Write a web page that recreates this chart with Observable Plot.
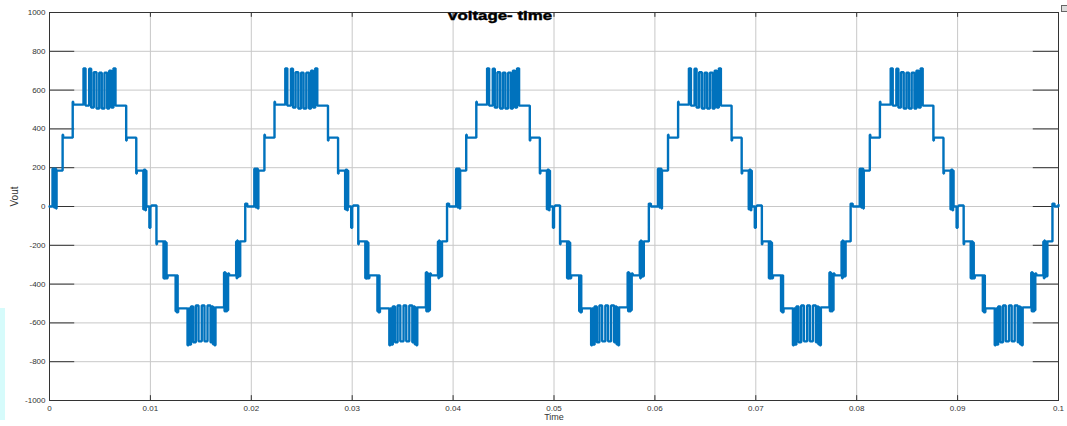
<!DOCTYPE html>
<html>
<head>
<meta charset="utf-8">
<script src="https://cdn.jsdelivr.net/npm/d3@7"></script>
<script src="https://cdn.jsdelivr.net/npm/@observablehq/plot@0.6"></script>
<style>
  html, body { margin: 0; padding: 0; background: #fff; }
  #wrap { position: relative; width: 1067px; height: 426px; overflow: hidden; }
  #title { position: absolute; left: 448px; top: 9px; font: bold 12.5px "Liberation Sans", Arial, sans-serif; color: #000;
           white-space: nowrap; transform: scaleX(1.35); transform-origin: left top; -webkit-text-stroke: 0.4px #000; }
  #icon { position: absolute; left: 1061px; top: 5px; width: 5px; height: 5px; border: 1px solid #666; background: #ddd; }
  #edge { position: absolute; left: 0; top: 308px; width: 5px; height: 112px; background: #d6fbfb; }
</style>
</head>
<body>
<div id="wrap">
  <div id="chart"></div>
  <div id="title">voltage- time</div>
  <div id="icon"></div>
  <div id="edge"></div>
</div>
<script>
// One 50 Hz period of the multilevel inverter output, as step breakpoints (s, V)
const cycleTimes = [
  0, 0.0003, 0.00035, 0.0004, 0.00045, 0.0005, 0.00055, 0.0006, 0.00065, 0.0007,
  0.0013, 0.00135, 0.0023, 0.00235,
  0.00337, 0.00357, 0.00393, 0.00413, 0.00439, 0.00466, 0.00493, 0.00518,
  0.00545, 0.00572, 0.00592, 0.00614, 0.00634, 0.00654,
  0.0076, 0.00765, 0.0086, 0.00865,
  0.0093, 0.00935, 0.0094, 0.00945, 0.0095, 0.00955, 0.0096,
  0.0099, 0.01, 0.0101,
  0.0106, 0.01065,
  0.0113, 0.01135, 0.0114, 0.01145, 0.0115, 0.01155, 0.0116, 0.0117,
  0.0125, 0.01255, 0.0126, 0.01265, 0.0127, 0.01275,
  0.01368, 0.01378, 0.01388, 0.01402, 0.01424, 0.0145, 0.01477, 0.01509,
  0.01536, 0.01566, 0.01596, 0.01611, 0.0162, 0.0163, 0.01635, 0.01645,
  0.0173, 0.01735, 0.0174, 0.01745, 0.0175, 0.01755, 0.0176, 0.01765, 0.0177, 0.0178,
  0.0185, 0.01855, 0.0186, 0.01865, 0.0187, 0.0188, 0.0189,
  0.0194, 0.0196
];
const cycleVolts = [
  0, 195, 0, 195, -5, 195, 0, 195, -10, 185,
  370, 355, 540, 525,
  712, 520, 710, 510, 692, 505, 690, 505,
  690, 505, 700, 510, 712, 520,
  340, 355, 170, 185,
  -15, 190, -15, 190, -20, 185, 0,
  -110, 0, 5,
  -195, -180,
  -370, -180, -372, -180, -370, -185, -370, -355,
  -540, -355, -545, -355, -545, -525,
  -715, -525, -712, -515, -700, -510, -695, -510,
  -695, -510, -700, -515, -710, -520, -715, -520,
  -340, -540, -340, -540, -345, -540, -350, -535, -345, -355,
  -180, -370, -175, -365, -180, -360, -180,
  15, 0
];
const cycleStarts = [0, 0.02, 0.04, 0.06, 0.08];
const endPoint = {t: 0.1, v: 8};

const xTicks = [0, 0.01, 0.02, 0.03, 0.04, 0.05, 0.06, 0.07, 0.08, 0.09, 0.1];
const xTickLabels = ["0", "0.01", "0.02", "0.03", "0.04", "0.05", "0.06", "0.07", "0.08", "0.09", "0.1"];
const yTicks = [1000, 800, 600, 400, 200, 0, -200, -400, -600, -800, -1000];
const yTickLabels = ["1000", "800", "600", "400", "200", "0", "-200", "-400", "-600", "-800", "-1000"];

const waveform = cycleStarts
  .flatMap(s => cycleTimes.map((t, i) => ({t: s + t, v: cycleVolts[i]})))
  .concat([endPoint]);

const lineColor = "#0072BD";

const chart = Plot.plot({
  width: 1067,
  height: 426,
  marginLeft: 49,
  marginRight: 9,
  marginTop: 12,
  marginBottom: 26,
  style: {fontFamily: "'Liberation Sans', Arial, sans-serif", fontSize: "8px", color: "#333", background: "#fff"},
  x: {domain: [0, 0.1]},
  y: {domain: [-1000, 1000]},
  marks: [
    Plot.gridX(xTicks, {stroke: "#c8c8c8", strokeOpacity: 1, strokeWidth: 1}),
    Plot.gridY(yTicks, {stroke: "#c8c8c8", strokeOpacity: 1, strokeWidth: 1}),
    // inward tick marks on all four sides of the box
    Plot.ruleX(xTicks, {y1: -1000, y2: -975, stroke: "#333", strokeWidth: 1}),
    Plot.ruleX(xTicks, {y1: 1000, y2: 975, stroke: "#333", strokeWidth: 1}),
    Plot.ruleY(yTicks, {x1: 0, x2: 0.0025, stroke: "#333", strokeWidth: 1}),
    Plot.ruleY(yTicks, {x1: 0.1, x2: 0.0975, stroke: "#333", strokeWidth: 1}),
    Plot.frame({stroke: "#333", strokeWidth: 1}),
    Plot.axisX(xTicks, {
      tickSize: 0, tickPadding: 5,
      tickFormat: (d, i) => xTickLabels[i],
      label: null, fontSize: 8, color: "#333"
    }),
    Plot.axisY(yTicks, {
      tickSize: 0, tickPadding: 4,
      tickFormat: (d, i) => yTickLabels[i],
      label: null, fontSize: 8, color: "#333"
    }),
    Plot.text(["Time"], {frameAnchor: "bottom", dy: 19, fontSize: 9, fill: "#333"}),
    Plot.text(["Vout"], {frameAnchor: "left", dx: -35, rotate: -90, fontSize: 10, fill: "#333"}),
    Plot.line(waveform, {
      x: "t", y: "v", curve: "step-after",
      stroke: lineColor, strokeWidth: 2.4, strokeLinejoin: "miter"
    })
  ]
});

document.getElementById("chart").appendChild(chart);
</script>
</body>
</html>
